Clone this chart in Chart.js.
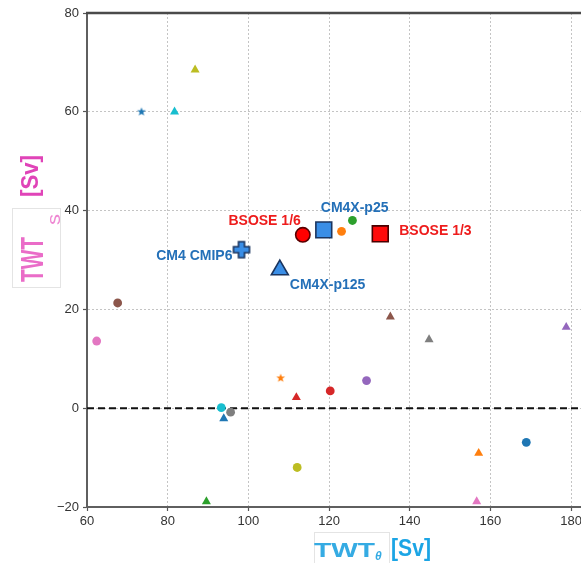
<!DOCTYPE html>
<html>
<head>
<meta charset="utf-8">
<script src="https://cdn.jsdelivr.net/npm/chart.js@4"></script>
<style>
  html, body { margin: 0; padding: 0; background: #fff; overflow: hidden; }
  #wrap { width: 581px; height: 563px; overflow: hidden; }
</style>
</head>
<body>
<div id="wrap"><canvas id="graph" width="600" height="563"></canvas></div>
<script>
var FONT = '"Liberation Sans", Arial, Helvetica, sans-serif';

// ensemble members (small markers)
var memberX = [73.5, 81.7, 86.8, 62.4, 67.6, 93.3, 93.9, 95.6, 89.6, 112.1, 111.9, 120.3, 108.0, 129.3, 135.2, 144.8, 178.8, 168.9, 157.1, 156.6, 123.1, 125.8];
var memberY = [60.0, 60.0, 68.5, 13.6, 21.3, 0.1, -2.1, -0.8, -18.9, -12.0, 2.2, 3.5, 6.1, 5.6, 18.5, 13.9, 16.4, -6.9, -9.1, -18.9, 35.8, 38.0];

// named runs (big markers)
var runNames = ['BSOSE 1/6', 'CM4X-p25', 'BSOSE 1/3', 'CM4 CMIP6', 'CM4X-p125'];
var runX = [113.5, 118.7, 132.7, 98.3, 107.8];
var runY = [35.1, 36.1, 35.3, 32.1, 28.0];

var xTicks = [60, 80, 100, 120, 140, 160, 180];
var yTicks = [-20, 0, 20, 40, 60, 80];

// marker styling
var tab = {
  blue: '#1f77b4', orange: '#ff7f0e', green: '#2ca02c', red: '#d62728', purple: '#9467bd',
  brown: '#8c564b', pink: '#e377c2', gray: '#7f7f7f', olive: '#bcbd22', cyan: '#17becf'
};

function starMarker(color, r) {
  var c = document.createElement('canvas');
  var s = Math.ceil(2 * r + 2);
  c.width = s; c.height = s;
  var g = c.getContext('2d');
  g.fillStyle = color;
  g.beginPath();
  for (var i = 0; i < 10; i++) {
    var rr = i % 2 ? r * 0.42 : r;
    var a = -Math.PI / 2 + i * Math.PI / 5;
    g.lineTo(s / 2 + rr * Math.cos(a), s / 2 + rr * Math.sin(a));
  }
  g.closePath();
  g.fill();
  return c;
}

function plusMarker(fill, edge, half, arm) {
  var c = document.createElement('canvas');
  var s = Math.ceil(2 * half + 4);
  c.width = s; c.height = s;
  var g = c.getContext('2d');
  var m = s / 2;
  var pts = [[-arm, -half], [arm, -half], [arm, -arm], [half, -arm], [half, arm], [arm, arm],
             [arm, half], [-arm, half], [-arm, arm], [-half, arm], [-half, -arm], [-arm, -arm]];
  g.beginPath();
  pts.forEach(function (p) { g.lineTo(m + p[0], m + p[1]); });
  g.closePath();
  g.fillStyle = fill;
  g.fill();
  g.lineWidth = 1.6;
  g.strokeStyle = edge;
  g.stroke();
  return c;
}

var memberStyle = [
  ['star', tab.blue], ['triangle', tab.cyan], ['triangle', tab.olive], ['circle', tab.pink],
  ['circle', tab.brown], ['circle', tab.cyan], ['triangle', tab.blue], ['circle', tab.gray],
  ['triangle', tab.green], ['circle', tab.olive], ['triangle', tab.red], ['circle', tab.red],
  ['star', tab.orange], ['circle', tab.purple], ['triangle', tab.brown], ['triangle', tab.gray],
  ['triangle', tab.purple], ['circle', tab.blue], ['triangle', tab.orange], ['triangle', tab.pink],
  ['circle', tab.orange], ['circle', tab.green]
];

var runStyle = [
  { shape: 'circle', r: 7.2, fill: '#ff0000', edge: '#5a0000', color: '#ee1c1c', align: 'right', dx: -2, dy: -14 },
  { shape: 'rect', r: 11.2, fill: '#3a8ee6', edge: '#1b355f', color: '#2470b8', align: 'left', dx: -3, dy: -22 },
  { shape: 'rect', r: 11.2, fill: '#ff0a0a', edge: '#4a0000', color: '#ee1c1c', align: 'left', dx: 19, dy: -3 },
  { shape: plusMarker('#3a8ee6', '#1b355f', 8, 3), r: 8, fill: '#3a8ee6', edge: '#1b355f', color: '#2470b8', align: 'right', dx: -9, dy: 7 },
  { shape: 'triangle', r: 9.8, fill: '#3a8ee6', edge: '#1b355f', color: '#2470b8', align: 'left', dx: 10, dy: 15 }
];

function pts(xs, ys) {
  return xs.map(function (x, i) { return { x: x, y: ys[i] }; });
}

// draw text squeezed/stretched into a given length and cap height
function boxText(ctx, text, size, weight, len, cap) {
  ctx.font = weight + ' ' + size + 'px ' + FONT;
  var w = ctx.measureText(text).width;
  ctx.scale(len / w, cap / (0.716 * size));
  ctx.fillText(text, 0, 0);
}

var decorations = {
  id: 'decorations',
  afterDatasetsDraw: function (chart) {
    var ctx = chart.ctx;
    var xs = chart.scales.x, ys = chart.scales.y;
    ctx.save();
    ctx.font = 'bold 14px ' + FONT;
    ctx.textBaseline = 'middle';
    runNames.forEach(function (name, i) {
      var st = runStyle[i];
      ctx.fillStyle = st.color;
      ctx.textAlign = st.align;
      ctx.fillText(name, xs.getPixelForValue(runX[i]) + st.dx, ys.getPixelForValue(runY[i]) + st.dy);
    });
    ctx.restore();
  },
  afterDraw: function (chart) {
    var ctx = chart.ctx;
    var a = chart.chartArea;
    ctx.save();
    // top spine
    ctx.strokeStyle = '#4a4a4a';
    ctx.lineWidth = 2.5;
    ctx.beginPath();
    ctx.moveTo(a.left - 1, a.top);
    ctx.lineTo(a.right + 1, a.top);
    ctx.stroke();

    ctx.textAlign = 'left';
    ctx.textBaseline = 'alphabetic';

    // x title: TWT_theta [Sv]
    ctx.strokeStyle = '#e4e4e4';
    ctx.lineWidth = 1;
    ctx.strokeRect(314.5, 532.5, 75, 34);
    ctx.fillStyle = '#35abe3';
    ctx.save(); ctx.translate(314, 557); boxText(ctx, 'TWT', 21, 'bold', 61, 15); ctx.restore();
    ctx.font = 'italic bold 12px ' + FONT;
    ctx.fillText('\u03b8', 375, 560);
    ctx.fillStyle = '#1ca5e5';
    ctx.save(); ctx.translate(391, 556); boxText(ctx, '[Sv]', 24, 'bold', 40, 17.5); ctx.restore();

    // y title: TWT_s [Sv]
    ctx.strokeStyle = '#e4e4e4';
    ctx.strokeRect(12.5, 208.5, 48, 79);
    ctx.fillStyle = '#ea6cc8';
    ctx.save(); ctx.translate(43, 282); ctx.rotate(-Math.PI / 2); boxText(ctx, 'TWT', 22, 'bold', 45, 22); ctx.restore();
    ctx.fillStyle = '#ee86d2';
    ctx.save(); ctx.translate(60, 225); ctx.rotate(-Math.PI / 2); boxText(ctx, 's', 18, 'normal', 11, 13.5); ctx.restore();
    ctx.fillStyle = '#e044b8';
    ctx.save(); ctx.translate(38, 197); ctx.rotate(-Math.PI / 2); boxText(ctx, '[Sv]', 24, 'bold', 42, 17.5); ctx.restore();
    ctx.restore();
  }
};

function tickText(v) {
  return v < 0 ? '\u2212' + Math.abs(v) : String(v);
}

var ctx = document.getElementById('graph');

new Chart(ctx, {
  type: 'scatter',
  plugins: [decorations],
  data: {
    datasets: [
      {
        // named runs, on top
        data: pts(runX, runY),
        order: 1,
        pointStyle: runStyle.map(function (s) { return s.shape; }),
        pointRadius: runStyle.map(function (s) { return s.r; }),
        backgroundColor: runStyle.map(function (s) { return s.fill; }),
        borderColor: runStyle.map(function (s) { return s.edge; }),
        borderWidth: 1.6
      },
      {
        data: pts(memberX, memberY),
        order: 2,
        pointStyle: memberStyle.map(function (s) {
          return s[0] === 'star' ? starMarker(s[1], 4.6) : s[0];
        }),
        pointRadius: memberStyle.map(function (s) { return s[0] === 'triangle' ? 5.2 : 4.4; }),
        backgroundColor: memberStyle.map(function (s) { return s[1]; }),
        borderWidth: 0
      },
      {
        // zero line
        data: [{ x: 60, y: 0 }, { x: 184, y: 0 }],
        order: 3,
        showLine: true,
        borderColor: '#111',
        borderWidth: 2,
        borderDash: [7, 4],
        pointRadius: 0
      }
    ]
  },
  options: {
    responsive: false,
    animation: false,
    events: [],
    layout: { padding: { top: 13, right: 10, left: 0, bottom: 0 } },
    scales: {
      x: {
        type: 'linear',
        min: 60,
        max: 184,
        afterFit: function (s) { s.height = 56; },
        afterBuildTicks: function (s) { s.ticks = xTicks.map(function (v) { return { value: v }; }); },
        ticks: {
          color: '#333',
          font: { family: FONT, size: 13 },
          padding: 3,
          maxRotation: 0,
          callback: tickText
        },
        grid: {
          color: '#c4c4c4',
          lineWidth: 1,
          tickLength: 4,
          tickColor: '#555',
          tickWidth: 1.2,
          tickBorderDash: []
        },
        border: { display: true, color: '#5f5f5f', width: 2, dash: [2, 2] }
      },
      y: {
        min: -20,
        max: 80,
        afterFit: function (s) { s.width = 87; },
        afterBuildTicks: function (s) { s.ticks = yTicks.map(function (v) { return { value: v }; }); },
        ticks: {
          color: '#333',
          font: { family: FONT, size: 13 },
          padding: 4,
          callback: tickText
        },
        grid: {
          color: '#c4c4c4',
          lineWidth: 1,
          tickLength: 4,
          tickColor: '#555',
          tickWidth: 1.2,
          tickBorderDash: []
        },
        border: { display: true, color: '#5f5f5f', width: 2, dash: [2, 2] }
      }
    },
    plugins: {
      legend: { display: false },
      tooltip: { enabled: false }
    }
  }
});
</script>
</body>
</html>
